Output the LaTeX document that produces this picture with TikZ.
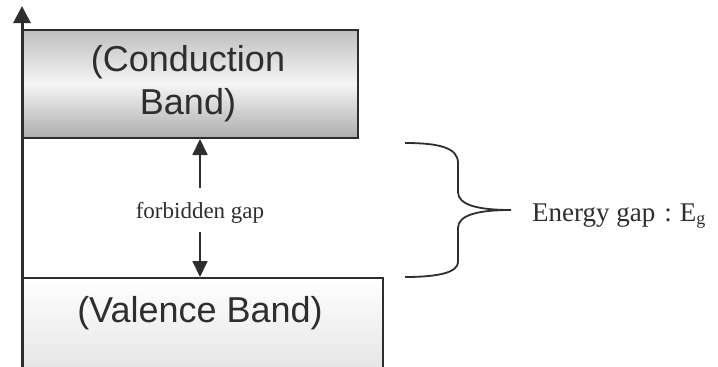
\documentclass[tikz,border=0pt]{standalone}
\usepackage{fontspec}
\setmainfont{Liberation Serif}
\newfontfamily\arialfont{Liberation Sans}
\usetikzlibrary{arrows.meta}
\definecolor{ink}{HTML}{2E2E2E}
\tikzset{
  band/.style={draw=ink, line width=2pt, anchor=north west, inner sep=0pt},
  bandtext/.style={font=\arialfont\fontsize{36}{43}\selectfont, text=ink, align=center, inner sep=0pt},
  gaparrow/.style={draw=ink, line width=1.8pt, -{Triangle[width=15pt,length=16pt]}},
  serifl/.style={font=\fontsize{23}{27}\selectfont, text=ink, inner sep=0pt},
}
\begin{document}
\begin{tikzpicture}[x=1pt,y=-1pt]
\useasboundingbox (0,0) rectangle (718,367);
% conduction band
\node[band, minimum width=335pt, minimum height=108pt,
      top color=gray!50, bottom color=gray!65, middle color=gray!8] (cb) at (22,29) {};
\node[bandtext] (cbt) at (188,84) {(Conduction\\Band)};
% valence band
\node[band, minimum width=360pt, minimum height=100pt,
      top color=white, bottom color=gray!22] (vb) at (22,277) {};
\node[bandtext, anchor=base] (vbt) at (200,322) {(Valence Band)};
% axis
\coordinate (ax0) at (22,370);
\coordinate (ax1) at (22,6);
\draw[draw=ink, line width=3pt, -{Triangle[width=17pt,length=17pt]}] (ax0) -- (ax1);
% forbidden gap
\node[serifl, anchor=base] (fg) at (200,218) {forbidden gap};
\coordinate (up0) at (200,188);
\coordinate (dn0) at (200,232);
\draw[gaparrow] (up0) -- (cb.south -| up0);
\draw[gaparrow] (dn0) -- (vb.north -| dn0);
% brace
\coordinate (br0) at (405,143);
\coordinate (brtip) at (511,210);
\coordinate (br1) at (405,277);
\draw[draw=ink, line width=1.8pt]
  (br0) .. controls (440,143) and (458,148) .. (458,163) -- (458,192)
  .. controls (458,205) and (478,210) .. (brtip)
  .. controls (478,210) and (458,215) .. (458,228) -- (458,262)
  .. controls (458,272) and (440,277) .. (br1);
% energy gap label
\node[serifl, font=\fontsize{27}{31}\selectfont, anchor=base west] (eg) at (532,221)
  {Energy gap\hspace{9pt}:\hspace{8pt}E\textsubscript{\fontsize{18}{18}\selectfont g}};
\end{tikzpicture}
\end{document}
